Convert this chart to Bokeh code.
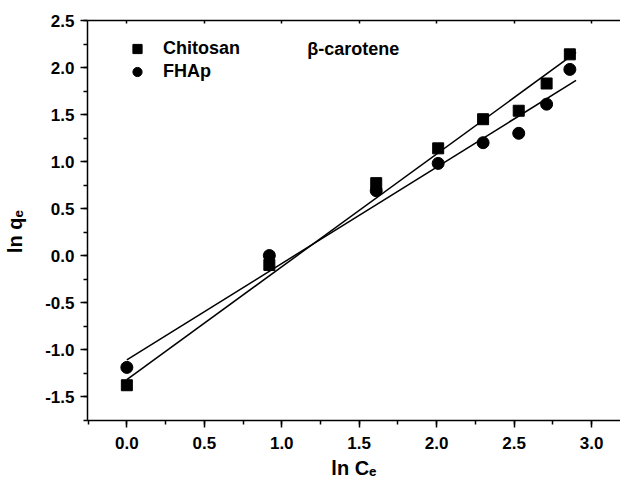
from bokeh.plotting import figure
from bokeh.models import (LinearAxis, SingleIntervalTicker, FixedTicker, PrintfTickFormatter,
                          Label, Legend, LegendItem, Range1d)
from bokeh.embed import file_html
from bokeh.resources import INLINE

# ---- data ----
ln_ce = [0.0, 0.92, 1.61, 2.01, 2.30, 2.53, 2.71, 2.86]
chitosan_lnqe = [-1.38, -0.10, 0.77, 1.14, 1.45, 1.54, 1.83, 2.14]
fhap_lnqe = [-1.19, 0.00, 0.69, 0.98, 1.20, 1.30, 1.61, 1.98]
series_names = ["Chitosan", "FHAp"]
fit_x_span = [0.0, 2.90]
fit_intercepts = [-1.32, -1.11]
fit_slopes = [1.20, 1.025]
annotation_text = "β-carotene"
x_title = "ln C\u2091"
y_title = "ln q\u2091\u00a0\u00a0\u00a0\u00a0"

FONT = "'Liberation Sans', Arial, sans-serif"

p = figure(width=620, height=481,
           x_range=Range1d(-0.254, 3.187), y_range=Range1d(-1.755, 2.5),
           output_backend="svg", toolbar_location=None,
           min_border_left=87, min_border_right=0, min_border_top=20, min_border_bottom=61)
p.outline_line_color = None
p.xgrid.visible = False
p.ygrid.visible = False
p.background_fill_color = "white"
p.border_fill_color = "white"

def style_axis(ax, tick_out=7, minor_out=4, tick_in=0, minor_in=0):
    ax.axis_line_width = 1.5
    ax.axis_line_color = "black"
    ax.major_tick_line_width = 1.5
    ax.minor_tick_line_width = 1.5
    ax.major_tick_line_color = "black"
    ax.minor_tick_line_color = "black"
    ax.major_tick_out = tick_out
    ax.major_tick_in = tick_in
    ax.minor_tick_out = minor_out
    ax.minor_tick_in = minor_in
    ax.major_label_text_font = FONT
    ax.major_label_text_font_style = "bold"
    ax.major_label_text_font_size = "17px"
    ax.major_label_text_color = "black"
    ax.axis_label_text_font = FONT
    ax.axis_label_text_font_style = "bold"
    ax.axis_label_text_font_size = "20px"
    ax.axis_label_text_color = "black"

for ax in (p.xaxis[0], p.yaxis[0]):
    ax.ticker = SingleIntervalTicker(interval=0.5, num_minor_ticks=2)
    ax.formatter = PrintfTickFormatter(format="%.1f")
    style_axis(ax)

p.xaxis[0].major_label_standoff = 9
p.xaxis[0].axis_label = x_title
p.xaxis[0].axis_label_standoff = 5
p.yaxis[0].major_label_standoff = 6
p.yaxis[0].axis_label = y_title
p.yaxis[0].axis_label_standoff = 16

top = LinearAxis(ticker=FixedTicker(ticks=[], minor_ticks=[i * 0.5 for i in range(0, 7)]))
style_axis(top, tick_out=0, minor_out=0, tick_in=3, minor_in=3)
p.add_layout(top, "above")

# fit lines
for b, m in zip(fit_intercepts, fit_slopes):
    p.line(fit_x_span, [b + m * x for x in fit_x_span], line_color="black", line_width=1.5)

sq = p.scatter(ln_ce, chitosan_lnqe, marker="square", size=11, color="black")
ci = p.scatter(ln_ce, fhap_lnqe, marker="circle", size=12, color="black")

legend = Legend(items=[LegendItem(label=series_names[0], renderers=[sq]),
                       LegendItem(label=series_names[1], renderers=[ci])],
                location=(38, 337), margin=0, padding=0, spacing=0,
                glyph_width=24, glyph_height=23, label_standoff=14,
                label_text_font=FONT, label_text_font_style="bold",
                label_text_font_size="18px", label_text_color="black",
                border_line_color=None, background_fill_alpha=0)
p.add_layout(legend)

p.add_layout(Label(x=1.165, y=2.202, text=annotation_text, text_font=FONT,
                   text_font_style="bold", text_font_size="18px", text_color="black",
                   text_baseline="middle", text_align="left"))

open("out.html", "w").write(file_html(p, INLINE))
